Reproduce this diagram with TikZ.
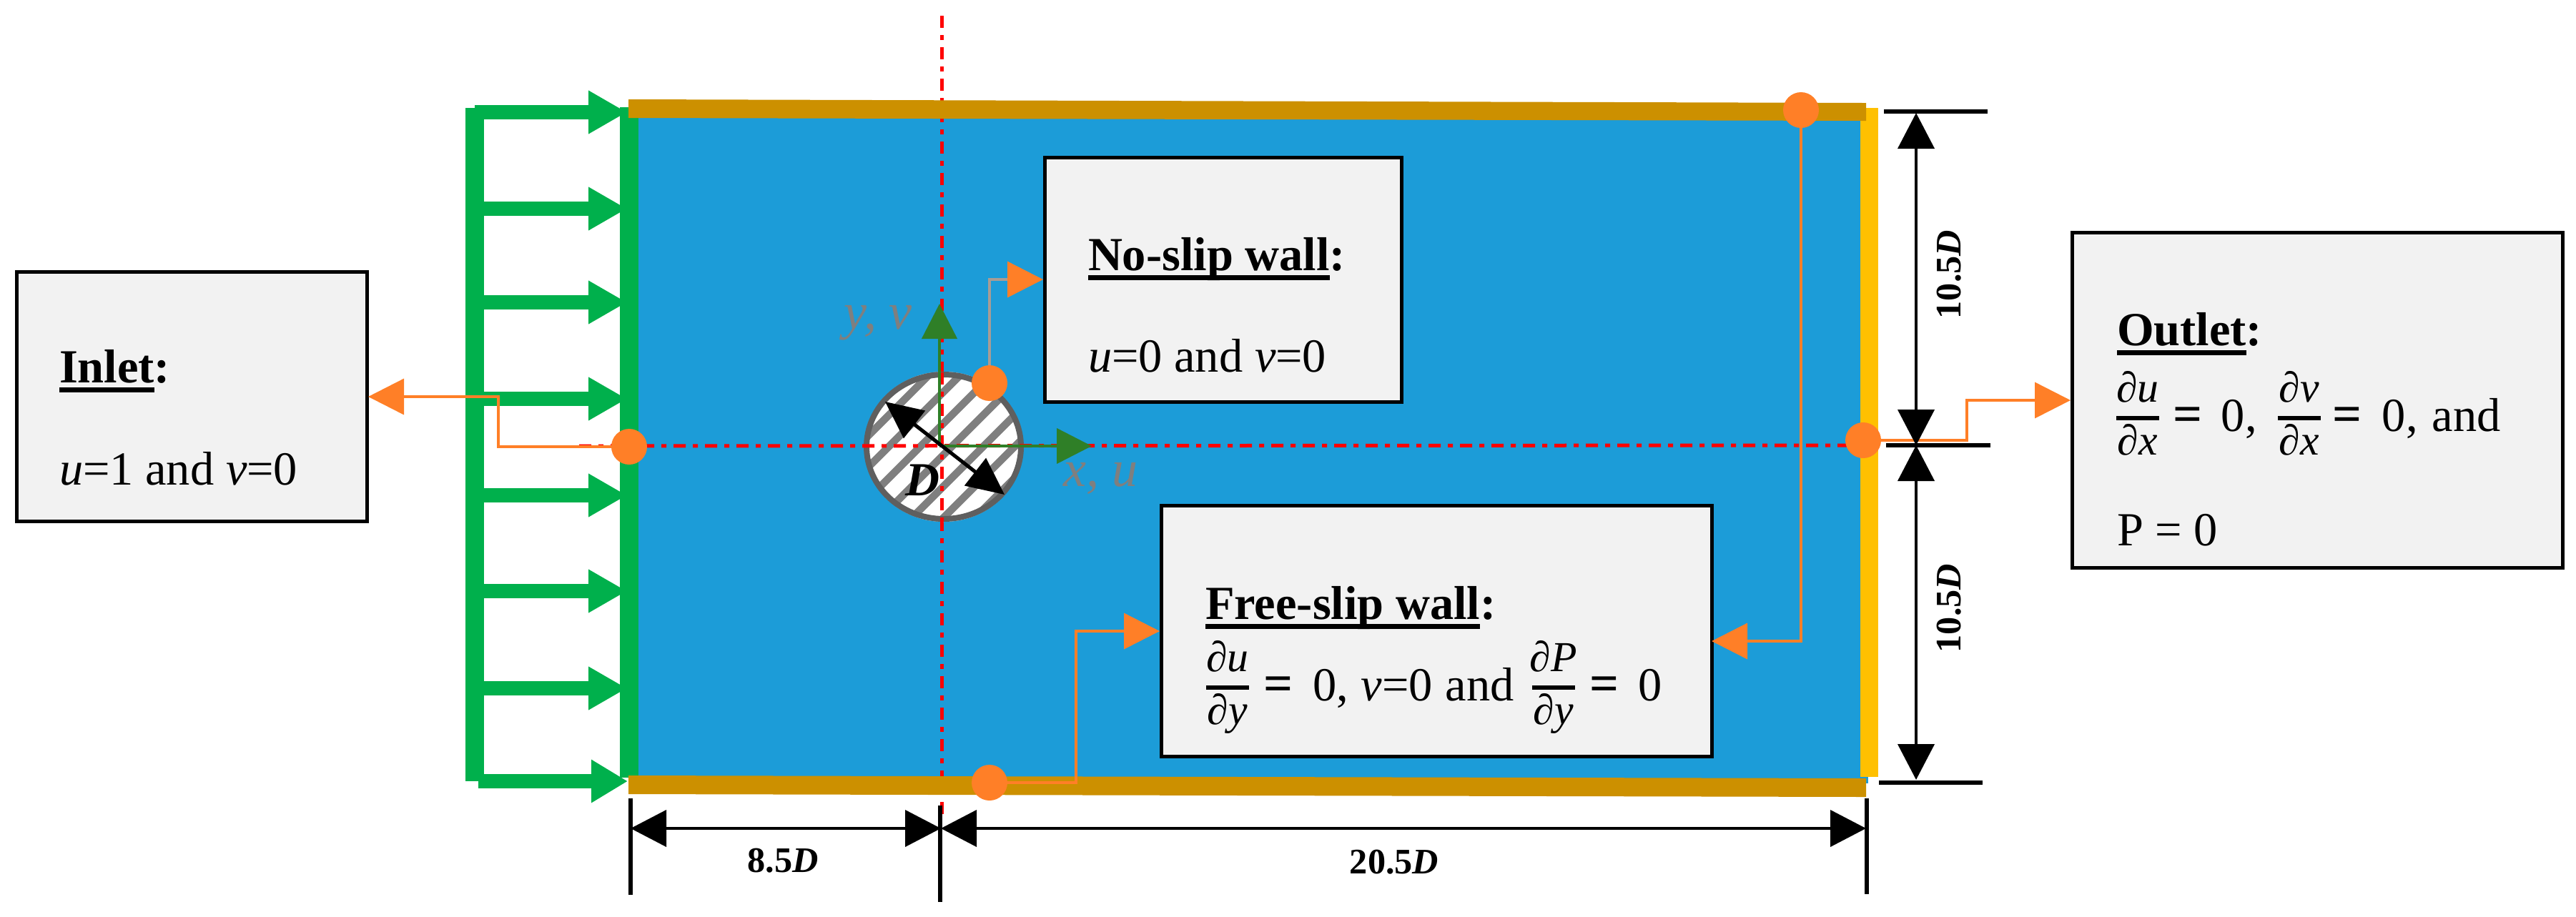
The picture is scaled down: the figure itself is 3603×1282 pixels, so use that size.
\documentclass[tikz,border=0pt]{standalone}
\usepackage{fontspec}
\setmainfont{Liberation Serif}
\usetikzlibrary{arrows.meta}
\definecolor{flow}{HTML}{1C9CD8}
\definecolor{wallb}{HTML}{CC9000}
\definecolor{inletg}{HTML}{00B04C}
\definecolor{outy}{HTML}{FFC000}
\definecolor{conn}{HTML}{FF7F27}
\definecolor{axisg}{HTML}{2F7F27}
\definecolor{boxf}{HTML}{F2F2F2}
\definecolor{axl}{HTML}{7F7F7F}
\definecolor{cylb}{HTML}{5F5F5F}
\definecolor{tanl}{HTML}{A89C94}
\newcommand{\ulh}[1]{\leavevmode\setbox0\hbox{#1}\rlap{\rule[-4pt]{\wd0}{2.1pt}}\box0}
\newcommand{\pfr}[2]{\rlap{\raisebox{4.4pt}{\rule{17.1pt}{1.7pt}}}\rlap{\makebox[17.1pt]{\raisebox{11.5pt}{\fontsize{17}{20}\selectfont\textit{#1}}}}\rlap{\makebox[17.1pt]{\raisebox{-9.4pt}{\fontsize{17}{20}\selectfont\textit{#2}}}}}
\newcommand{\pc}[2]{\rlap{\hspace{#1mm}#2}}
\newcommand{\eqb}{{\fontsize{20.5}{22}\selectfont\textbf{=}}}
\tikzset{
  x=0.1mm,y=-0.1mm,
  bcbox/.style={draw=black,fill=boxf,line width=0.5mm,inner sep=0pt,outer sep=0pt,anchor=north west},
  bctext/.style={inner sep=0pt,outer sep=0pt,anchor=base west,font=\fontsize{18.9}{22}\selectfont},
  dimtext/.style={inner sep=0pt,outer sep=0pt,font=\fontsize{14.3}{16}\selectfont\bfseries},
  axlab/.style={inner sep=0pt,outer sep=0pt,anchor=base west,font=\fontsize{20.5}{22}\selectfont,text=axl},
  dotn/.style={circle,fill=conn,minimum size=5mm,inner sep=0pt,outer sep=0pt},
  link/.style={draw=conn,line width=0.35mm,-{Triangle[length=5mm,width=5mm,color=conn]}},
  inflow/.style={draw=inletg,line width=2mm,-{Triangle[length=5.4mm,width=5.7mm]}},
  axisar/.style={draw=axisg,line width=0.45mm,-{Triangle[length=4.9mm,width=4.9mm]}},
  center line/.style={draw=red,line width=0.5mm,dash pattern=on 1.7mm off 1mm on 0.7mm off 1mm},
  dimline/.style={draw=black,line width=0.4mm,{Triangle[length=5mm,width=5.1mm]}-{Triangle[length=5mm,width=5.1mm]}},
  tick/.style={draw=black,line width=0.55mm},
}
\begin{document}
\begin{tikzpicture}
\useasboundingbox (0,0) rectangle (3603,1282);
% flow domain
\fill[flow] (885,160) rectangle (2613,1096);
% centre lines
\coordinate (clT) at (1317,22);
\coordinate (clB) at (1317,1145);
\coordinate (clL) at (810,624);
\coordinate (clR) at (2590,623);
\draw[center line] (clT) -- (clB);
% cylinder
\begin{scope}
\clip (1320,625) ellipse [x radius=111,y radius=105];
\fill[white] (1200,510) rectangle (1440,740);
\foreach \k in {-6,...,6}{
  \draw[draw=axl,line width=1.05mm] ({1320+\k*44-150},{625+150+11}) -- ({1320+\k*44+150},{625-150+11});
}
\end{scope}
\draw[draw=cylb,line width=0.8mm] (1320,625) ellipse [x radius=108,y radius=101];
\draw[center line] (clL) -- (clR);
\draw[center line] (1317,521) -- (1317,730);
% walls
\fill[outy] (2602,151) rectangle (2627,1087);
\draw[draw=inletg,line width=2.6mm] (880,150) -- (880,1088);
\draw[draw=inletg,line width=2.6mm] (664,151) -- (664,1093);
\fill[wallb] (879,139) -- (2610,144) -- (2610,169) -- (879,165) -- cycle;
\fill[wallb] (879,1085) -- (2610,1089) -- (2610,1115) -- (879,1111) -- cycle;
% inflow arrows
\foreach \i/\yy in {1/157,2/292,3/423,4/558,5/693,6/827,7/963}{
  \coordinate (gl\i) at (664,\yy);
  \coordinate (gw\i) at (877,\yy);
  \draw[inflow] (gl\i) -- (gw\i);
}
\coordinate (gl8) at (669,1093);
\coordinate (gw8) at (878,1093);
\draw[inflow,-{Triangle[length=5.1mm,width=5.7mm]}] (gl8) -- (gw8);
% axes
\coordinate (orig) at (1314,624);
\coordinate (ytip) at (1314,425);
\coordinate (xtip) at (1527,624);
\draw[axisar] (orig) -- (ytip);
\draw[axisar] (orig) -- (xtip);
\node[axlab] (ylab) at (1180,460) {\textit{y, v}};
\node[axlab] (xlab) at (1487,680) {\textit{x, u}};
% diameter
\coordinate (dA) at (1238,562);
\coordinate (dB) at (1405,692);
\draw[draw=black,line width=0.5mm,{Triangle[length=5.2mm,width=4.8mm]}-{Triangle[length=5.2mm,width=4.8mm]}] (dA) -- (dB);
\node[bctext] (dlab) at (1266,693) {\textbf{\textit{D}}};
% boxes
\node[bcbox,minimum width=49mm,minimum height=34.9mm] (inlet) at (23,380) {};
\node[bcbox,minimum width=49.9mm,minimum height=34.2mm] (noslip) at (1461,220) {};
\node[bcbox,minimum width=77mm,minimum height=35.1mm] (freeslip) at (1624,707) {};
\node[bcbox,minimum width=68.6mm,minimum height=46.9mm] (outlet) at (2898,325) {};
% box texts
\node[bctext] (t1a) at (83,535) {\textbf{\ulh{Inlet}:}};
\node[bctext] (t1b) at (83,678) {\textit{u}=1 and \textit{v}=0};
\node[bctext] (t2a) at (1522,378) {\textbf{\ulh{No-slip wall}:}};
\node[bctext] (t2b) at (1522,520) {\textit{u}=0 and \textit{v}=0};
\node[bctext] (t3a) at (1686,866) {\textbf{\ulh{Free-slip wall}:}};
\node[bctext] (t3b) at (1685,980) {\pfr{∂u}{∂y}\pc{8.1}{\eqb}\pc{15}{0,}\pc{21.7}{\textit{v}=0}\pc{33.5}{and}\pc{45.6}{\pfr{∂P}{∂y}}\pc{53.7}{\eqb}\pc{60.5}{0}};
\node[bctext] (t4a) at (2961,483) {\textbf{\ulh{Outlet}:}};
\node[bctext] (t4b) at (2958,603) {\pfr{∂u}{∂x}\pc{8}{\eqb}\pc{14.7}{0,}\pc{22.6}{\pfr{∂v}{∂x}}\pc{30.3}{\eqb}\pc{37.2}{0,}\pc{44.2}{and}};
\node[bctext] (t4c) at (2961,763) {P = 0};
% connector dots
\node[dotn] (pI) at (880,625) {};
\node[dotn] (pN) at (1384,536) {};
\node[dotn] (pF) at (1384,1095) {};
\node[dotn] (pT) at (2519,154) {};
\node[dotn] (pO) at (2606,616) {};
\coordinate (inIn) at (515,555);
\coordinate (nsIn) at (1459,391);
\coordinate (fsInL) at (1622,883);
\coordinate (fsInR) at (2394,897);
\coordinate (outIn) at (2896,560);
\draw[link] (pI) -- (697,625) -- (697,555) -- (inIn);
\draw[link,draw=tanl] (pN) -- (1384,391) -- (nsIn);
\draw[link] (pF) -- (1505,1095) -- (1505,883) -- (fsInL);
\draw[link] (pT) -- (2519,897) -- (fsInR);
\draw[link] (pO) -- (2751,616) -- (2751,560) -- (outIn);
% dimensions right
\coordinate (rT) at (2680,158);
\coordinate (rM) at (2680,623);
\coordinate (rB) at (2680,1091);
\draw[tick] (2635,156) -- (2780,156);
\draw[tick] (2638,623) -- (2784,623);
\draw[tick] (2628,1095) -- (2773,1095);
\draw[dimline] (rT) -- (rM);
\draw[dimline] (rM) -- (rB);
\node[dimtext,rotate=90,anchor=base] (d1) at (2742,384) {10.5\textit{D}};
\node[dimtext,rotate=90,anchor=base] (d2) at (2742,851) {10.5\textit{D}};
% dimensions bottom
\draw[tick] (882,1117) -- (882,1252);
\draw[tick] (1315,1127) -- (1315,1262);
\draw[tick] (2611,1117) -- (2611,1251);
\coordinate (bL) at (882,1159);
\coordinate (bM) at (1316,1159);
\coordinate (bR) at (2610,1159);
\draw[dimline] (bL) -- (bM);
\draw[dimline] (bM) -- (bR);
\node[dimtext,anchor=base] (d3) at (1095,1220) {8.5\textit{D}};
\node[dimtext,anchor=base] (d4) at (1950,1222) {20.5\textit{D}};
\end{tikzpicture}
\end{document}
